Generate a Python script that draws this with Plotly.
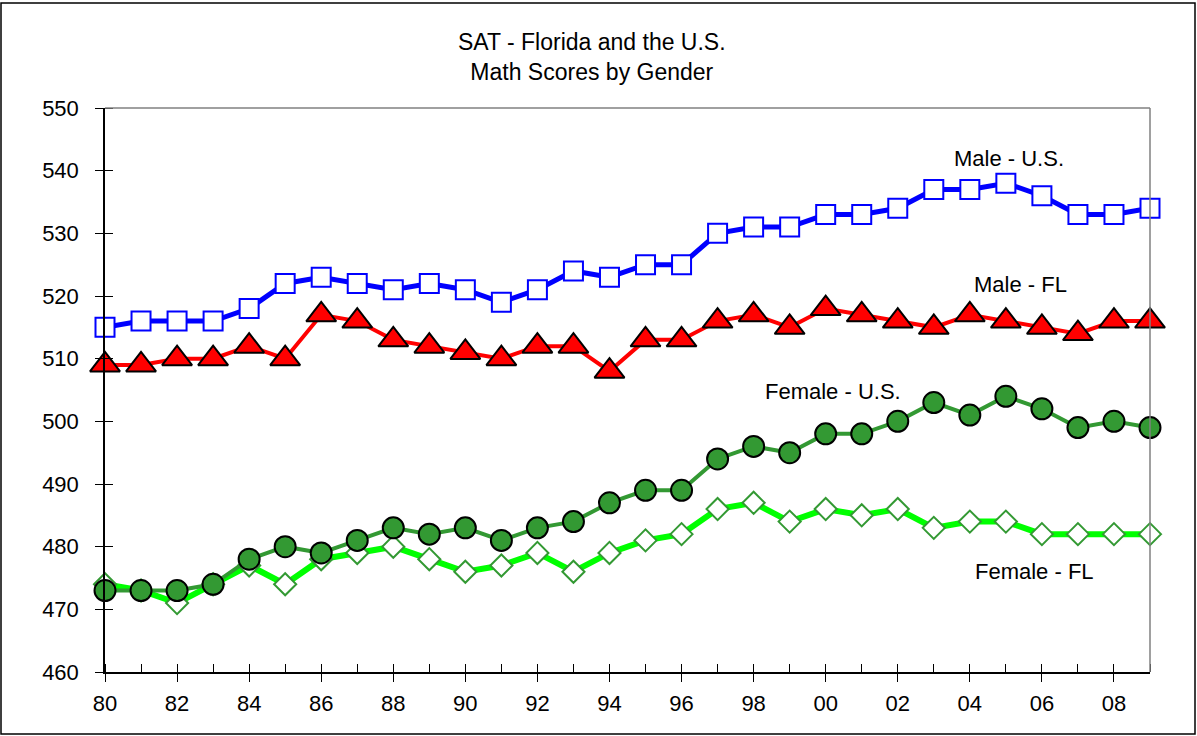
import plotly.graph_objects as go

years = list(range(1980, 2010))
male_us = [515, 516, 516, 516, 518, 522, 523, 522, 521, 522, 521, 519, 521, 524, 523,
           525, 525, 530, 531, 531, 533, 533, 534, 537, 537, 538, 536, 533, 533, 534]
male_fl = [509, 509, 510, 510, 512, 510, 517, 516, 513, 512, 511, 510, 512, 512, 508,
           513, 513, 516, 517, 515, 518, 517, 516, 515, 517, 516, 515, 514, 516, 516]
female_us = [473, 473, 473, 474, 478, 480, 479, 481, 483, 482, 483, 481, 483, 484, 487,
             489, 489, 494, 496, 495, 498, 498, 500, 503, 501, 504, 502, 499, 500, 499]
female_fl = [474, 473, 471, 474, 477, 474, 478, 479, 480, 478, 476, 477, 479, 476, 479,
             481, 482, 486, 487, 484, 486, 485, 486, 483, 484, 484, 482, 482, 482, 482]
x_tick_labels = ["80", "", "82", "", "84", "", "86", "", "88", "", "90", "", "92", "",
                 "94", "", "96", "", "98", "", "00", "", "02", "", "04", "", "06", "",
                 "08", ""]
y_ticks = list(range(460, 551, 10))

FONT = "Liberation Sans, Arial, sans-serif"

fig = go.Figure()

fig.add_trace(go.Scatter(
    x=years, y=female_fl, mode="lines+markers", cliponaxis=False,
    line=dict(color="#00FF00", width=6),
    marker=dict(symbol="diamond", size=17, color="white",
                line=dict(color="#339933", width=2)),
    showlegend=False))
fig.add_trace(go.Scatter(
    x=years, y=female_us, mode="lines+markers", cliponaxis=False,
    line=dict(color="#339933", width=4),
    marker=dict(symbol="circle", size=21, color="#339933",
                line=dict(color="black", width=2)),
    showlegend=False))
fig.add_trace(go.Scatter(
    x=years, y=male_fl, mode="lines+markers", cliponaxis=False,
    line=dict(color="#FF0000", width=4),
    marker=dict(symbol="triangle-up", size=26, color="#FF0000",
                line=dict(color="black", width=2)),
    showlegend=False))
fig.add_trace(go.Scatter(
    x=years, y=male_us, mode="lines+markers", cliponaxis=False,
    line=dict(color="#0000FF", width=5),
    marker=dict(symbol="square", size=19, color="white",
                line=dict(color="#0000FF", width=2)),
    showlegend=False))

xr = [years[0], years[-1]]
yr = [y_ticks[0], y_ticks[-1]]

fig.update_layout(
    width=1197, height=736,
    margin=dict(l=105, r=47, t=108, b=64),
    paper_bgcolor="white", plot_bgcolor="white",
    font=dict(family=FONT, size=22, color="black"),
    xaxis=dict(range=xr, tickmode="array", tickvals=years, ticktext=x_tick_labels,
               ticks="outside", ticklen=8, tickwidth=1, tickcolor="black",
               minor=dict(tickmode="array", tickvals=years, ticks="inside", ticklen=8,
                          tickwidth=1, tickcolor="black", showgrid=False),
               showline=True, linecolor="black", linewidth=1.5, showgrid=False,
               zeroline=False, tickfont=dict(size=22), ticklabelstandoff=3,
               fixedrange=True),
    yaxis=dict(range=yr, tickmode="array", tickvals=y_ticks, ticks="outside",
               ticklen=8, tickwidth=1, tickcolor="black",
               minor=dict(tickmode="array", tickvals=y_ticks, ticks="inside", ticklen=8,
                          tickwidth=1, tickcolor="black", showgrid=False),
               showline=True, linecolor="black", linewidth=1.5, showgrid=False,
               zeroline=False, tickfont=dict(size=22), ticklabelstandoff=12,
               fixedrange=True),
)

# gray top / right frame of the plot area
fig.add_shape(type="line", xref="paper", yref="paper", x0=0, x1=1, y0=1, y1=1,
              line=dict(color="#808080", width=1.5))
fig.add_shape(type="line", xref="paper", yref="paper", x0=1, x1=1, y0=0, y1=1,
              line=dict(color="#808080", width=1.5))
# outer chart border
pw, ph = 1045.0, 564.0
fig.add_shape(type="rect", xref="paper", yref="paper",
              x0=(1 - 105) / pw, x1=(1195 - 105) / pw,
              y0=(672 - 734) / ph, y1=(672 - 3) / ph,
              line=dict(color="black", width=1.5), fillcolor="rgba(0,0,0,0)",
              layer="below")

fig.add_annotation(text="SAT - Florida and the U.S.<br>Math Scores by Gender",
                   xref="paper", yref="paper", x=(592 - 105) / pw, y=(672 - 57) / ph,
                   xanchor="center", yanchor="middle", showarrow=False,
                   font=dict(size=23))

labels = [("Male - U.S.", 2005.1, 542.0), ("Male - FL", 2005.4, 521.9),
          ("Female - U.S.", 2000.2, 504.7), ("Female - FL", 2005.8, 476.1)]
for txt, lx, ly in labels:
    fig.add_annotation(text=txt, x=lx, y=ly, xref="x", yref="y", showarrow=False,
                       xanchor="center", yanchor="middle", font=dict(size=22))

fig.write_html("out.html", config={"displayModeBar": False},
               post_script="document.body.style.margin='0';")
